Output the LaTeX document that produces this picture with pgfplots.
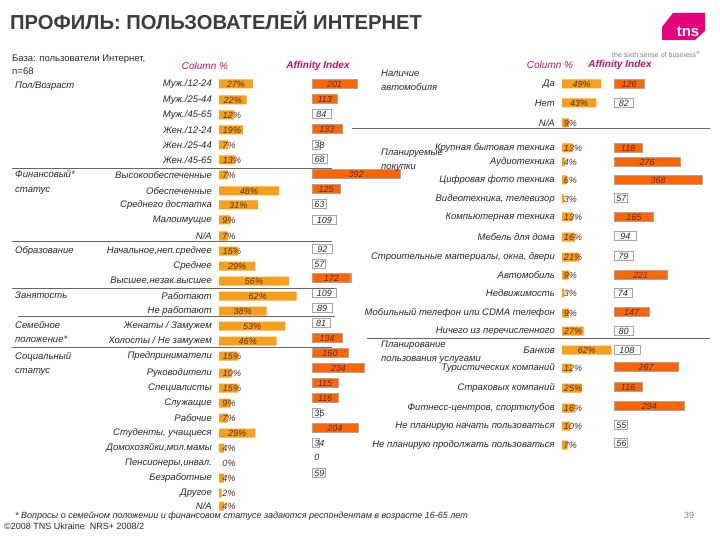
\documentclass[border=0pt]{standalone}
\usepackage{fontspec}
\setmainfont{Liberation Sans}
\usepackage{pgfplots}
\usepackage{pgfplotstable}
\pgfplotsset{compat=1.18}
\definecolor{colbar}{RGB}{246,160,30}
\definecolor{affbar}{RGB}{255,102,0}
\definecolor{hdr}{RGB}{185,20,110}
\definecolor{txt}{RGB}{40,40,40}
\definecolor{ttl}{RGB}{60,60,60}
\definecolor{inbar}{RGB}{90,45,25}
\definecolor{tnspink}{RGB}{230,0,126}
\newcommand{\lbl}{\fontsize{9.5}{11}\selectfont\itshape}
\newcommand{\vlbl}{\fontsize{9}{11}\selectfont\itshape}

% left panel: Column %
\pgfplotstableread{
y v lx
84 27 13.5
100 22 11
115 12 10.4
130 19 10.4
145 7 8
160 13 10.4
175 7 8
191 48 24
205 31 15.5
220 9 8
236 7 8
251 15 10.4
266 29 14.5
281 56 28
296 62 31
311 38 19
326 53 26.5
341 46 23
356 15 10.4
373 10 10.4
388 15 10.4
403 9 8
418 7 8
433 29 14.5
448 4 8
463 0 8
478 4 8
493 2 8
506 4 8
}\leftcol
% left panel: Affinity index, above-average (filled)
\pgfplotstableread{
y v lx
84 201 100.5
99 113 56.5
129 133 66.5
174 392 196
189 125 62.5
278 172 86
338 134 67
353 160 80
368 234 117
383 115 57.5
398 116 58
428 204 102
}\leftaffhi
% left panel: Affinity index, white boxes
\pgfplotstableread{
y v lx
114 84 42
145 38 33
159 68 34
204 63 33
220 109 54.5
249 92 46
264 57 33
293 109 54.5
308 89 44.5
323 81 40.5
413 35 33
443 34 33
473 59 33
}\leftafflo
% right panel: Column %
\pgfplotstableread{
y v lx
84 49 24.5
103 43 21.5
123 9 10.6
148 13 13.75
162 4 10.6
180 6 10.6
199 3 10.6
217 13 13.75
237 16 13.75
257 21 13.75
275 9 10.6
293 3 10.6
313 9 10.6
331 27 13.75
350 62 31
368 12 13.75
388 25 13.75
408 16 13.75
426 10 13.75
445 7 10.6
}\rightcol
\pgfplotstableread{
y v lx
84 126 63
148 118 59
162 276 138
180 368 184
217 165 82.5
275 221 110.5
312 147 73.5
367 267 133.5
387 116 58
406 294 147
}\rightaffhi
\pgfplotstableread{
y v lx
103 82 41
198 57 31
236 94 47
256 79 39.5
293 74 37
331 80 40
350 108 54
425 55 31
443 56 31
}\rightafflo

\pgfplotsset{
  panel/.style={scale only axis, height=540pt, ymin=0, ymax=540, y dir=reverse,
    clip=false, axis line style={draw=none}, tick style={draw=none},
    xtick=\empty, ytick=\empty, anchor=center, xmin=0},
  colbars/.style={xbar, bar width=9pt, bar shift=0pt, fill=colbar, draw=none},
  affhi/.style={xbar, bar width=9pt, bar shift=0pt, fill=affbar, draw=gray!70, line width=0.4pt},
  afflo/.style={xbar, bar width=9pt, bar shift=0pt, fill=white, draw=gray!70, line width=0.5pt},
  lblplot/.style={draw=none, mark=none, point meta=explicit symbolic,
    every node near coord/.style={anchor=center, font=\vlbl, text=#1, inner sep=0pt}},
  ylbl/.style={yticklabel style={font=\lbl, text=txt, anchor=east, inner sep=0pt, xshift=-7pt}},
}

\begin{document}
\begin{tikzpicture}
\useasboundingbox (0,0) rectangle (720pt,540pt);
\fill[white] (0,0) rectangle (720pt,540pt);

% ---------- left Column %
\begin{axis}[panel, at={(281.5pt,270pt)}, width=125pt, xmax=100, ylbl,
  ytick={84,100,115,130,145,160,175,191,205,220,236,251,266,281,296,311,326,341,356,373,388,403,418,433,448,463,478,493,506},
  yticklabels={{Муж./12-24},{Муж./25-44},{Муж./45-65},{Жен./12-24},{Жен./25-44},{Жен./45-65},
  {Высокообеспеченные},{Обеспеченные},{Среднего достатка},{Малоимущие},{N/A},
  {Начальное,неп.среднее},{Среднее},{Высшее,незак.высшее},{Работают},{Не работают},
  {Женаты / Замужем},{Холосты / Не замужем},{Предприниматели},{Руководители},{Специалисты},
  {Служащие},{Рабочие},{Студенты, учащиеся},{Домохозяйки,мол.мамы},{Пенсионеры,инвал.},
  {Безработные},{Другое},{N/A}}]
\addplot[colbars] table[x=v,y=y]{\leftcol};
\addplot[lblplot=inbar, nodes near coords={\pgfplotspointmeta\%}] table[x=lx,y=y,meta=v]{\leftcol};
\end{axis}

% ---------- left Affinity
\begin{axis}[panel, at={(357pt,270pt)}, width=90pt, xmax=400]
\addplot[affhi] table[x=v,y=y]{\leftaffhi};
\addplot[afflo] table[x=v,y=y]{\leftafflo};
\addplot[lblplot=inbar, nodes near coords={\pgfplotspointmeta}] table[x=lx,y=y,meta=v]{\leftaffhi};
\addplot[lblplot=txt, nodes near coords={\pgfplotspointmeta}] table[x=lx,y=y,meta=v]{\leftafflo};
\addplot[lblplot=txt, nodes near coords={\pgfplotspointmeta}] coordinates {(22,457) [0]};
\end{axis}

% ---------- right Column %
\begin{axis}[panel, at={(602pt,270pt)}, width=80pt, xmax=100, ylbl,
  ytick={84,103,123,148,162,180,199,217,237,257,275,293,313,331,350,368,388,408,426,445},
  yticklabels={{Да},{Нет},{N/A},{Крупная бытовая техника},{Аудиотехника},{Цифровая фото техника},
  {Видеотехника, телевизор},{Компьютерная техника},{Мебель для дома},{Строительные материалы, окна, двери},
  {Автомобиль},{Недвижимость},{Мобильный телефон или CDMA телефон},{Ничего из перечисленного},
  {Банков},{Туристических компаний},{Страховых компаний},{Фитнесс-центров, спортклубов},
  {Не планирую начать пользоваться},{Не планирую продолжать пользоваться}}]
\addplot[colbars] table[x=v,y=y]{\rightcol};
\addplot[lblplot=inbar, nodes near coords={\pgfplotspointmeta\%}] table[x=lx,y=y,meta=v]{\rightcol};
\end{axis}

% ---------- right Affinity
\begin{axis}[panel, at={(662pt,270pt)}, width=96pt, xmax=400]
\addplot[affhi] table[x=v,y=y]{\rightaffhi};
\addplot[afflo] table[x=v,y=y]{\rightafflo};
\addplot[lblplot=inbar, nodes near coords={\pgfplotspointmeta}] table[x=lx,y=y,meta=v]{\rightaffhi};
\addplot[lblplot=txt, nodes near coords={\pgfplotspointmeta}] table[x=lx,y=y,meta=v]{\rightafflo};
\end{axis}

\begin{scope}[x=1pt, y=-1pt, shift={(0,540pt)}]
% title
\node[anchor=base west, inner sep=0pt, font=\fontsize{20.2}{24}\selectfont\bfseries, text=ttl] at (10,30) {ПРОФИЛЬ: ПОЛЬЗОВАТЕЛЕЙ ИНТЕРНЕТ};
\node[anchor=base west, inner sep=0pt, font=\fontsize{9.5}{11}\selectfont, text=txt] at (12,62) {База: пользователи Интернет,};
\node[anchor=base west, inner sep=0pt, font=\fontsize{9.5}{11}\selectfont, text=txt] at (12,75) {n=68};
% headers
\node[font=\fontsize{10}{12}\selectfont\itshape, text=hdr] at (205,66) {Column \%};
\node[font=\fontsize{10}{12}\selectfont\itshape\bfseries, text=hdr] at (318,66) {Affinity Index};
\node[font=\fontsize{10}{12}\selectfont\itshape, text=hdr] at (550,65) {Column \%};
\node[font=\fontsize{10}{12}\selectfont\itshape\bfseries, text=hdr] at (620,65) {Affinity Index};
% group labels left
\begin{scope}[every node/.style={anchor=base west, inner sep=0pt, font=\lbl, text=txt}]
\node at (15,89) {Пол/Возраст};
\node at (15,178) {Финансовый*};
\node at (15,193) {статус};
\node at (15,254) {Образование};
\node at (15,299) {Занятость};
\node at (15,329) {Семейное};
\node at (15,343) {положение*};
\node at (15,360) {Социальный};
\node at (15,374) {статус};
% right
\node at (381,77) {Наличие};
\node at (381,91) {автомобиля};
\node at (381,156) {Планируемые};
\node at (381,170) {покупки};
\node at (381,348) {Планирование};
\node at (381,362) {пользования услугами};
\end{scope}
% separators
\begin{scope}[draw=gray!80!black, line width=0.6pt]
\draw (12,168) -- (332,168);
\draw (12,241) -- (332,241);
\draw (12,288) -- (335,288);
\draw (18,316) -- (335,316);
\draw (12,347) -- (332,347);
\draw (352,128) -- (710,128);
\draw (367,338) -- (710,338);
\end{scope}
% footnotes
\node[anchor=base west, inner sep=0pt, font=\fontsize{9}{10}\selectfont\itshape, text=txt] at (15,519) {* Вопросы о семейном положении и финансовом статусе задаются респондентам в возрасте 16-65 лет};
\node[anchor=base west, inner sep=0pt, font=\fontsize{9}{10}\selectfont, text=txt] at (4,530) {©2008 TNS Ukraine\ \ NRS+ 2008/2};
\node[anchor=base west, inner sep=0pt, font=\fontsize{9}{11}\selectfont, text=gray] at (684,519) {39};
% logo
\fill[tnspink] (662,27) -- (673,13) -- (705,13) -- (705,31) -- (695,40) -- (662,40) -- cycle;
\node[font=\fontsize{15}{16}\selectfont\bfseries, text=white, anchor=base] at (688,37) {tns};
\node[anchor=base west, inner sep=0pt, font=\fontsize{7}{8}\selectfont, text=gray] at (612,58) {the sixth sense of business\textsuperscript{®}};
\end{scope}
\end{tikzpicture}
\end{document}
